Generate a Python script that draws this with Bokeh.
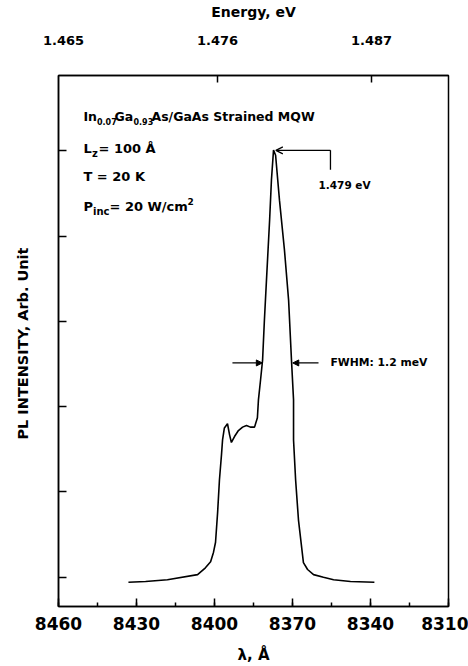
from bokeh.plotting import figure
from bokeh.models import (Range1d, LinearAxis, FixedTicker, SingleIntervalTicker,
                          Label, Arrow, NormalHead, OpenHead, ColumnDataSource)
from bokeh.embed import file_html
from bokeh.resources import INLINE

# ---- data ----
wavelength = [8433.1, 8426.5, 8418.1, 8406.5, 8403.5, 8401.5, 8400.4, 8399.6, 8398.8,
              8398.1, 8397.3, 8396.9, 8396.2, 8395.0, 8394.2, 8393.5, 8392.3, 8390.8,
              8389.2, 8387.7, 8386.2, 8384.6, 8383.5, 8383.1, 8382.3, 8381.5, 8380.8,
              8380.0, 8378.8, 8378.1, 8377.3, 8376.5, 8375.0, 8373.1, 8371.5, 8370.4,
              8369.6, 8369.6, 8368.8, 8367.7, 8365.8, 8364.2, 8361.9, 8358.1, 8354.2,
              8347.7, 8338.5]
intensity = [0.94, 0.95, 0.97, 1.03, 1.11, 1.18, 1.29, 1.41, 1.76,
             2.14, 2.44, 2.61, 2.75, 2.80, 2.67, 2.58, 2.65, 2.72,
             2.76, 2.78, 2.76, 2.76, 2.87, 3.08, 3.31, 3.55, 4.02,
             4.49, 5.19, 5.66, 6.01, 5.95, 5.42, 4.84, 4.25, 3.55,
             3.08, 2.61, 2.14, 1.67, 1.17, 1.09, 1.03, 1.00, 0.97,
             0.95, 0.94]

wl_ticks_interval = 30
energy_ticks = [1.465, 1.476, 1.487]
energy_tick_marks = [1.476, 1.487]
intensity_ticks = [1, 2, 3, 4, 5, 6]

peak_label = "1.479 eV"
fwhm_label = "FWHM: 1.2 meV"

FONT = "DejaVu Sans"

p = figure(width=468, height=666, x_range=Range1d(8460, 8310), y_range=Range1d(0.656, 6.885),
           output_backend="svg", toolbar_location=None,
           min_border_left=58, min_border_right=20, min_border_top=75, min_border_bottom=59)
p.background_fill_color = "white"
p.border_fill_color = "white"
p.outline_line_color = "black"
p.outline_line_width = 1.5
p.xgrid.visible = False
p.ygrid.visible = False

# bottom axis
xa = p.xaxis[0]
xa.ticker = SingleIntervalTicker(interval=wl_ticks_interval, num_minor_ticks=2)
xa.major_tick_in = 8
xa.major_tick_out = 0
xa.minor_tick_in = 4
xa.minor_tick_out = 0
xa.major_tick_line_color = "black"
xa.major_tick_line_width = 1.5
xa.minor_tick_line_width = 1.5
xa.axis_line_width = 1.5
xa.major_label_text_font = FONT
xa.major_label_text_font_style = "bold"
xa.major_label_text_font_size = "17px"
xa.major_label_text_color = "black"
xa.major_label_standoff = 10
xa.axis_label = "λ, Å"
xa.axis_label_text_font = FONT
xa.axis_label_text_font_style = "bold"
xa.axis_label_text_font_size = "15px"
xa.axis_label_text_color = "black"
xa.axis_label_standoff = 13

# left axis
ya = p.yaxis[0]
ya.ticker = FixedTicker(ticks=intensity_ticks)
ya.major_tick_in = 8
ya.major_tick_out = 0
ya.minor_tick_line_color = None
ya.major_tick_line_width = 1.5
ya.axis_line_width = 1.5
ya.major_label_overrides = {t: "" for t in intensity_ticks}
ya.major_label_standoff = 0
ya.axis_label = "PL  INTENSITY, Arb. Unit"
ya.axis_label_text_font = FONT
ya.axis_label_text_font_style = "bold"
ya.axis_label_text_font_size = "14.5px"
ya.axis_label_text_color = "black"
ya.axis_label_standoff = 28

# top axes (energy): inner one carries tick marks, outer one carries labels
p.extra_x_ranges = {"energy": Range1d(1.464643, 1.4925)}
tm = LinearAxis(x_range_name="energy", ticker=FixedTicker(ticks=energy_tick_marks))
tm.major_tick_in = 7
tm.major_tick_out = 0
tm.minor_tick_line_color = None
tm.major_tick_line_width = 1.5
tm.axis_line_width = 1.5
tm.major_label_overrides = {t: "" for t in energy_tick_marks}
tm.major_label_standoff = 0
p.add_layout(tm, "above")

ta = LinearAxis(x_range_name="energy", ticker=FixedTicker(ticks=energy_ticks),
                axis_label="Energy, eV")
ta.major_tick_line_color = None
ta.minor_tick_line_color = None
ta.axis_line_color = None
ta.major_label_text_font = FONT
ta.major_label_text_font_style = "bold"
ta.major_label_text_font_size = "13px"
ta.major_label_text_color = "black"
ta.major_label_standoff = 25
ta.axis_label_text_font = FONT
ta.axis_label_text_font_style = "bold"
ta.axis_label_text_font_size = "14px"
ta.axis_label_text_color = "black"
ta.axis_label_standoff = 13
p.add_layout(ta, "above")

# spectrum
src = ColumnDataSource(dict(x=wavelength, y=intensity))
p.line("x", "y", source=src, line_color="black", line_width=1.6)

# text block
def lab(x, y, text, xo=0, yo=0, size="12px", align="left"):
    p.add_layout(Label(x=x, y=y, text=text, x_offset=xo, y_offset=yo, text_font=FONT,
                       text_font_style="bold", text_font_size=size, text_color="black",
                       text_baseline="middle", text_align=align))

tx = 8450.4
lab(tx, 6.405, "In", 0, 0, "12.5px")
lab(tx, 6.405, "0.07", 13.5, -5, "8px")
lab(tx, 6.405, "Ga", 31, 0, "12.5px")
lab(tx, 6.405, "0.93", 50, -5, "8px")
lab(tx, 6.405, "As/GaAs  Strained MQW", 68, 0, "12.5px")

lab(tx, 6.03, "L", 0, 0, "13px")
lab(tx, 6.03, "z", 8.5, -5, "10px")
lab(tx, 6.03, "= 100 Å", 15, 0, "13px")

lab(tx, 5.70, "T = 20 K", 0, 0, "13px")

lab(tx, 5.35, "P", 0, 0, "13px")
lab(tx, 5.35, "inc", 9.5, -5, "10px")
lab(tx, 5.35, "= 20 W/cm", 26, 0, "13px")
lab(tx, 5.35, "2", 104, 5, "9px")

# peak marker arrow
p.add_layout(Arrow(end=OpenHead(size=7, line_width=1.3), x_start=8355.4, y_start=6.007,
                   x_end=8376.4, y_end=6.007, line_width=1.3))
p.segment(x0=[8355.4], y0=[6.007], x1=[8355.4], y1=[5.78], line_color="black", line_width=1.3)
lab(8360.0, 5.60, peak_label, 0, 0, "10.5px")

# FWHM arrows
p.add_layout(Arrow(end=NormalHead(size=6, fill_color="black", line_width=1), x_start=8393.1,
                   y_start=3.513, x_end=8381.6, y_end=3.513, line_width=1.2))
p.add_layout(Arrow(end=NormalHead(size=6, fill_color="black", line_width=1), x_start=8360.0,
                   y_start=3.513, x_end=8369.9, y_end=3.513, line_width=1.2))
lab(8355.4, 3.513, fwhm_label, 0, 0, "10.8px")

open("out.html", "w").write(file_html(p, INLINE))
